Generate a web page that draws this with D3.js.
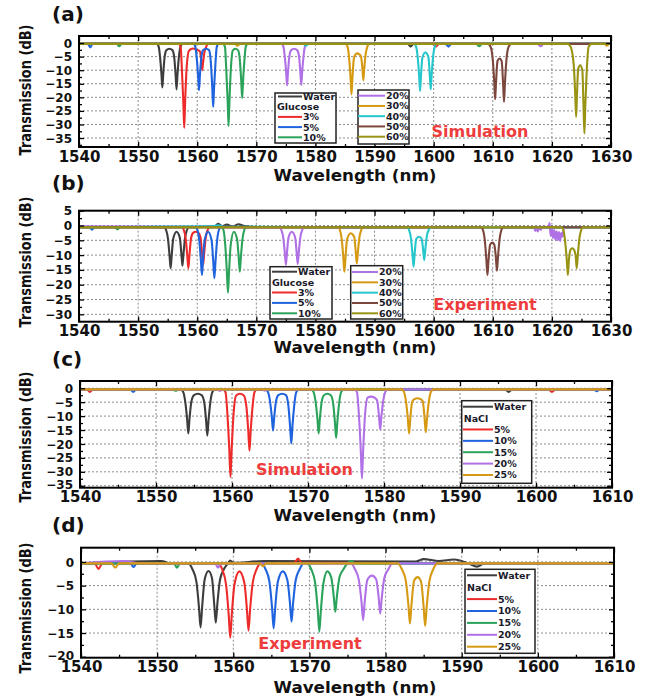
<!DOCTYPE html>
<html>
<head>
<meta charset="utf-8">
<script src="https://cdn.jsdelivr.net/npm/d3@7"></script>
<style>
  body { margin: 0; background: #fff; }
  text { font-family: "DejaVu Sans", sans-serif; font-weight: bold; }
</style>
</head>
<body>
<script>
const W = 649, H = 699;

// Labels / colours

const glucoseLabels = ["Water", "3%", "5%", "10%", "20%", "30%", "40%", "50%", "60%"];
const glucoseColors = ["#3d3d3d", "#ee2b2b", "#1f63df", "#2ba35a", "#b070e6", "#d69a12", "#25c6cc", "#7b463b", "#989312"];
const naclLabels = ["Water", "5%", "10%", "15%", "20%", "25%"];
const naclColors = ["#3d3d3d", "#ee2b2b", "#1f63df", "#2ba35a", "#b070e6", "#d69a12"];

// Ticks

const xTicksGlucose = d3.range(1540, 1631, 10);
const xTicksNacl = d3.range(1540, 1611, 10);
const yTicksA = [0, -5, -10, -15, -20, -25, -30, -35];
const yTicksB = [5, 0, -5, -10, -15, -20, -25, -30];
const yTicksC = [0, -5, -10, -15, -20, -25, -30, -35];
const yTicksD = [0, -5, -10, -15, -20];

// (a) glucose, simulation  [wavelength nm, dB]

const glucoseSim = [
  [[1540,-0.3],[1553.2,-0.3],[1553.5,-1.5],[1553.7,-4.9],[1553.95,-11.5],[1554.1,-16.4],[1554.25,-11.5],[1554.5,-4.9],[1554.8,-2.6],[1555.3,-2.1],[1555.8,-2.6],[1556.1,-5.1],[1556.35,-12],[1556.5,-17.1],[1556.65,-12],[1556.9,-5.1],[1557.15,-1.5],[1557.5,-0.3],[1595.6,-0.3],[1596.1,-1.3],[1596.6,-0.3],[1630,-0.3]],
  [[1540,-0.3],[1556.9,-0.3],[1557.2,-1.5],[1557.4,-9.4],[1557.65,-21.8],[1557.8,-31.2],[1557.95,-21.8],[1558.2,-9.4],[1558.6,-2.8],[1559.3,-2],[1560.0,-2.6],[1560.45,-3],[1560.7,-7],[1560.85,-10],[1561.0,-7],[1561.25,-3],[1561.5,-1.5],[1561.8,-0.3],[1599.9,-0.3],[1600.4,-1.3],[1600.9,-0.3],[1630,-0.3]],
  [[1540,-0.3],[1541.5,-0.3],[1541.9,-1.6],[1542.3,-0.3],[1559.4,-0.3],[1559.7,-1.5],[1559.9,-5.2],[1560.15,-12.2],[1560.3,-17.4],[1560.45,-12.2],[1560.7,-5.2],[1561.0,-2.6],[1561.5,-2.1],[1562.0,-2.6],[1562.3,-7],[1562.55,-16.5],[1562.7,-23.5],[1562.85,-16.5],[1563.1,-7],[1563.3,-1.5],[1563.6,-0.3],[1602.0,-0.3],[1602.5,-1.3],[1603.0,-0.3],[1630,-0.3]],
  [[1540,-0.3],[1546.4,-0.3],[1546.8,-1.2],[1547.2,-0.3],[1564.4,-0.3],[1564.7,-1.5],[1564.9,-9.2],[1565.15,-21.4],[1565.3,-30.6],[1565.45,-21.4],[1565.7,-9.2],[1566.0,-2.8],[1566.45,-2.1],[1566.9,-2.6],[1567.2,-6],[1567.45,-14.1],[1567.6,-20.2],[1567.75,-14.1],[1568.0,-6],[1568.2,-1.5],[1568.5,-0.3],[1607.2,-0.3],[1607.7,-1.2],[1608.2,-0.3],[1630,-0.3]],
  [[1540,-0.3],[1574.3,-0.3],[1574.6,-1.5],[1574.8,-4.7],[1575.05,-10.9],[1575.2,-15.6],[1575.35,-10.9],[1575.6,-4.7],[1575.9,-2.6],[1576.4,-2.1],[1576.9,-2.6],[1577.2,-4.6],[1577.45,-10.8],[1577.6,-15.4],[1577.75,-10.8],[1578.0,-4.6],[1578.2,-1.5],[1578.5,-0.3],[1617.6,-0.3],[1618.1,-1.2],[1618.6,-0.3],[1630,-0.3]],
  [[1540,-0.3],[1566.4,-0.3],[1566.8,-1],[1567.2,-0.3],[1585.1,-0.3],[1585.45,-1.5],[1585.7,-5.7],[1585.95,-13.2],[1586.1,-18.9],[1586.25,-13.2],[1586.5,-5.7],[1586.8,-4.1],[1587.1,-3.8],[1587.4,-4.1],[1587.7,-4.9],[1587.95,-9.6],[1588.1,-13.7],[1588.25,-9.6],[1588.5,-4.1],[1588.75,-1.5],[1589.1,-0.3],[1628.9,-0.3],[1629.3,-1],[1629.7,-0.3],[1630,-0.3]],
  [[1540,-0.3],[1578.0,-0.3],[1578.4,-1],[1578.8,-0.3],[1596.7,-0.3],[1597.05,-1.5],[1597.3,-5.3],[1597.55,-12.3],[1597.7,-17.6],[1597.85,-12.3],[1598.1,-5.3],[1598.6,-3.5],[1599.1,-5.1],[1599.35,-12],[1599.5,-17.1],[1599.65,-12],[1599.9,-5.1],[1600.15,-1.5],[1600.5,-0.3],[1630,-0.3]],
  [[1540,-0.3],[1609.2,-0.3],[1609.65,-1.5],[1610.0,-6.2],[1610.25,-14.5],[1610.4,-20.7],[1610.55,-14.5],[1610.8,-6.6],[1611.15,-5.7],[1611.5,-6.7],[1611.75,-15.2],[1611.9,-21.7],[1612.05,-15.2],[1612.3,-6.5],[1612.65,-1.5],[1613.1,-0.3],[1630,-0.3]],
  [[1540,-0.3],[1622.7,-0.3],[1623.2,-1.5],[1623.7,-8.2],[1623.95,-19],[1624.1,-27.2],[1624.25,-19],[1624.45,-9.5],[1624.8,-8.2],[1625.15,-10],[1625.35,-23.3],[1625.5,-33.3],[1625.65,-23.3],[1625.9,-10],[1626.2,-1.5],[1626.7,-0.3],[1630,-0.3]]
];

// (b) glucose, experiment

const glucoseExp = [
  [[1540,-0.6],[1548,-0.5],[1554.4,-0.6],[1554.75,-1.6],[1555.05,-4.4],[1555.32,-10.2],[1555.5,-14.5],[1555.68,-10.2],[1555.95,-4.4],[1556.5,-2.1],[1557.05,-4.1],[1557.32,-9.5],[1557.5,-13.6],[1557.68,-9.5],[1557.95,-4.1],[1558.25,-1.6],[1558.6,-0.6],[1563.0,-0.3],[1563.5,0.6],[1564.2,-0.2],[1565,0.3],[1566,-0.4],[1567,0.4],[1568,-0.2],[1570,-0.5],[1590,-0.6],[1630,-0.5]],
  [[1540,-0.6],[1557.4,-0.6],[1557.75,-1.6],[1558.05,-4.4],[1558.32,-10.2],[1558.5,-14.5],[1558.68,-10.2],[1558.95,-4.4],[1559.3,-2.5],[1559.75,-2.1],[1560.2,-2.5],[1560.55,-4],[1560.82,-9.3],[1561.0,-13.3],[1561.18,-9.3],[1561.45,-4],[1561.75,-1.6],[1562.1,-0.6],[1630,-0.6]],
  [[1540,-0.6],[1541.8,-0.6],[1542.2,-1.4],[1542.6,-0.6],[1559.7,-0.6],[1560.05,-1.6],[1560.35,-5],[1560.62,-11.7],[1560.8,-16.7],[1560.98,-11.7],[1561.25,-5],[1561.85,-2.1],[1562.45,-5.3],[1562.72,-12.5],[1562.9,-17.8],[1563.08,-12.5],[1563.35,-5.3],[1563.65,-1.6],[1564.0,-0.6],[1630,-0.6]],
  [[1540,-0.6],[1546.1,-0.6],[1546.5,-1.3],[1546.9,-0.6],[1564.1,-0.6],[1564.45,-1.6],[1564.75,-6.8],[1565.02,-15.9],[1565.2,-22.7],[1565.38,-15.9],[1565.65,-6.8],[1566.2,-2.1],[1566.75,-4.7],[1567.02,-10.9],[1567.2,-15.6],[1567.38,-10.9],[1567.65,-4.7],[1567.95,-1.6],[1568.3,-0.6],[1630,-0.6]],
  [[1540,-0.3],[1573.9,-0.6],[1574.25,-1.6],[1574.55,-4],[1574.82,-9.3],[1575.0,-13.3],[1575.18,-9.3],[1575.45,-4],[1576.0,-2.1],[1576.55,-3.9],[1576.82,-9.1],[1577.0,-13],[1577.18,-9.1],[1577.45,-3.9],[1577.75,-1.6],[1578.1,-0.6],[1617.0,-0.6],[1617.2,-1.8],[1617.4,-0.4],[1617.6,-2],[1617.8,-0.5],[1618.1,-1.5],[1618.4,-0.4],[1619.4,-0.6],[1619.6,0.8],[1619.8,-3.5],[1620.0,-0.8],[1620.2,-4.2],[1620.4,-1.5],[1620.6,-4.8],[1620.8,-2],[1621.0,-5],[1621.2,-2.2],[1621.4,-5.2],[1621.6,-2.5],[1621.8,-3.8],[1622.0,-1],[1622.3,-0.6],[1630,-0.6]],
  [[1540,-0.6],[1583.8,-0.6],[1584.15,-1.6],[1584.45,-4.7],[1584.72,-10.9],[1584.9,-15.6],[1585.08,-10.9],[1585.35,-4.7],[1585.95,-2.6],[1586.55,-3.8],[1586.82,-9],[1587.0,-12.8],[1587.18,-9],[1587.45,-3.8],[1587.75,-1.6],[1588.1,-0.6],[1630,-0.6]],
  [[1540,-0.6],[1562.5,-0.3],[1563.5,0.1],[1564.5,-0.4],[1595.5,-0.6],[1595.85,-1.6],[1596.15,-4.2],[1596.42,-9.7],[1596.6,-13.9],[1596.78,-9.7],[1597.05,-4.6],[1597.5,-3.8],[1597.95,-4.4],[1598.22,-8.2],[1598.4,-11.7],[1598.58,-8.2],[1598.85,-3.5],[1599.15,-1.6],[1599.5,-0.6],[1630,-0.6]],
  [[1540,-0.6],[1608.0,-0.6],[1608.35,-1.6],[1608.65,-5],[1608.92,-11.7],[1609.1,-16.7],[1609.28,-11.7],[1609.55,-6.5],[1609.9,-5.8],[1610.25,-6.4],[1610.52,-10.7],[1610.7,-15.3],[1610.88,-10.7],[1611.15,-4.6],[1611.45,-1.6],[1611.8,-0.6],[1630,-0.6]],
  [[1540,-0.6],[1621.6,-0.6],[1621.95,-1.6],[1622.25,-5.5],[1622.52,-11.7],[1622.7,-16.7],[1622.88,-11.7],[1623.15,-8.2],[1623.45,-7.7],[1623.75,-8.2],[1624.02,-10.2],[1624.2,-14.5],[1624.38,-10.2],[1624.65,-4.4],[1624.95,-1.6],[1625.3,-0.6],[1630,-0.6]]
];

// (c) NaCl, simulation

const naclSim = [
  [[1540,-0.4],[1553.25,-0.4],[1553.6,-1.5],[1553.85,-4.9],[1554.1,-11.3],[1554.25,-16.2],[1554.4,-11.3],[1554.65,-4.9],[1555.0,-2.5],[1555.5,-2],[1556.0,-2.5],[1556.35,-5.1],[1556.6,-11.9],[1556.75,-17],[1556.9,-11.9],[1557.15,-5.1],[1557.4,-1.5],[1557.75,-0.4],[1595.9,-0.4],[1596.4,-1.3],[1596.9,-0.4],[1610,-0.4]],
  [[1540,-0.4],[1540.9,-0.4],[1541.3,-1.3],[1541.7,-0.4],[1558.8,-0.4],[1559.15,-1.5],[1559.4,-9.5],[1559.65,-22.3],[1559.8,-31.8],[1559.95,-22.3],[1560.2,-9.5],[1560.55,-2.6],[1561.05,-2],[1561.55,-2.6],[1561.9,-6.7],[1562.15,-15.7],[1562.3,-22.4],[1562.45,-15.7],[1562.7,-6.7],[1562.95,-1.5],[1563.3,-0.4],[1601.6,-0.4],[1602.1,-1.3],[1602.6,-0.4],[1610,-0.4]],
  [[1540,-0.4],[1546.6,-0.4],[1547.0,-1.3],[1547.4,-0.4],[1564.4,-0.4],[1564.75,-1.5],[1565.0,-4.6],[1565.25,-10.6],[1565.4,-15.2],[1565.55,-10.6],[1565.8,-4.6],[1566.1,-2.5],[1566.6,-2],[1567.1,-2.5],[1567.4,-5.9],[1567.65,-13.9],[1567.8,-19.8],[1567.95,-13.9],[1568.2,-5.9],[1568.45,-1.5],[1568.8,-0.4],[1607.6,-0.4],[1608.0,-1.1],[1608.4,-0.4],[1610,-0.4]],
  [[1540,-0.4],[1552.2,-0.4],[1552.6,-0.9],[1553.0,-0.4],[1570.4,-0.4],[1570.75,-1.5],[1571.0,-4.9],[1571.25,-11.3],[1571.4,-16.2],[1571.55,-11.3],[1571.8,-4.9],[1572.1,-2.5],[1572.55,-2],[1573.0,-2.5],[1573.3,-5.3],[1573.55,-12.5],[1573.7,-17.8],[1573.85,-12.5],[1574.1,-5.3],[1574.35,-1.5],[1574.7,-0.4],[1610,-0.4]],
  [[1540,-0.4],[1558.0,-0.4],[1558.4,-0.9],[1558.8,-0.4],[1564.0,-0.4],[1564.3,-0.9],[1564.6,-0.4],[1576.1,-0.4],[1576.45,-1.5],[1576.7,-9.7],[1576.95,-22.7],[1577.1,-32.4],[1577.25,-22.7],[1577.5,-9.7],[1577.85,-3.4],[1578.3,-3],[1578.75,-3.4],[1579.1,-4.4],[1579.35,-10.4],[1579.5,-14.8],[1579.65,-10.4],[1579.9,-4.4],[1580.15,-1.5],[1580.5,-0.4],[1610,-0.4]],
  [[1540,-0.4],[1582.3,-0.4],[1582.65,-1.5],[1582.9,-4.9],[1583.15,-11.3],[1583.3,-16.2],[1583.45,-11.3],[1583.7,-4.9],[1584.0,-3.9],[1584.4,-3.6],[1584.8,-3.9],[1585.1,-4.7],[1585.35,-11.1],[1585.5,-15.8],[1585.65,-11.1],[1585.9,-4.7],[1586.15,-1.5],[1586.5,-0.4],[1610,-0.4]]
];

// (d) NaCl, experiment

const naclExp = [
  [[1540,-0.3],[1550.5,0.2],[1552,-0.4],[1554.1,-0.3],[1554.65,-1.6],[1555.15,-4.1],[1555.5,-9.7],[1555.7,-13.8],[1555.9,-9.7],[1556.25,-3.6],[1556.75,-1.9],[1557.2,-3.4],[1557.5,-9],[1557.7,-12.8],[1557.9,-9],[1558.25,-3.8],[1558.75,-1.6],[1559.3,-0.3],[1559.6,0.3],[1560,-0.2],[1564,0.2],[1584,0.1],[1585,0.6],[1587,0.2],[1589,0.5],[1591,-0.4],[1592,-1],[1593,-0.3],[1610,-0.3]],
  [[1540,-0.3],[1541.8,-0.3],[1542.3,-1.5],[1542.8,-0.3],[1558.0,-0.3],[1558.55,-1.6],[1559.05,-4.8],[1559.4,-11.2],[1559.6,-16],[1559.8,-11.2],[1560.15,-4.8],[1560.8,-2],[1561.45,-4.4],[1561.8,-10.2],[1562.0,-14.5],[1562.2,-10.2],[1562.55,-4.4],[1563.05,-1.6],[1563.6,-0.3],[1568.0,-0.2],[1568.5,0.7],[1569.0,-0.2],[1610,-0.3]],
  [[1540,-0.3],[1546.5,-0.3],[1546.9,-1.1],[1547.3,-0.3],[1563.7,-0.3],[1564.25,-1.6],[1564.75,-4.2],[1565.1,-9.8],[1565.3,-14],[1565.5,-9.8],[1565.85,-4.2],[1566.5,-2],[1567.1,-3.8],[1567.45,-8.8],[1567.65,-12.6],[1567.85,-8.8],[1568.2,-3.8],[1568.7,-1.6],[1569.25,-0.3],[1610,-0.3]],
  [[1540,-0.3],[1552.2,-0.3],[1552.6,-1.2],[1553.0,-0.3],[1569.7,-0.3],[1570.25,-1.6],[1570.75,-4.4],[1571.1,-10.3],[1571.3,-14.7],[1571.5,-10.3],[1571.85,-4.4],[1572.35,-2],[1572.85,-3.2],[1573.2,-7.4],[1573.4,-10.5],[1573.6,-7.4],[1573.95,-3.2],[1574.45,-1.6],[1575.0,-0.3],[1575.5,0.2],[1576,-0.3],[1610,-0.3]],
  [[1540,-0.3],[1545.5,0.2],[1548,-0.3],[1557.6,-0.3],[1558.0,-1.2],[1558.4,-0.3],[1575.45,-0.3],[1576.0,-1.6],[1576.5,-3.9],[1576.85,-8.6],[1577.05,-12.3],[1577.25,-8.6],[1577.6,-3.8],[1578.2,-2.9],[1578.75,-3.6],[1579.1,-7.6],[1579.3,-10.9],[1579.5,-7.6],[1579.85,-3.3],[1580.35,-1.6],[1580.9,-0.3],[1610,-0.3]],
  [[1540,-0.3],[1544.0,-0.3],[1544.5,-1.2],[1545.0,-0.3],[1563.5,-0.3],[1563.9,-0.9],[1564.3,-0.3],[1581.6,-0.3],[1582.15,-1.6],[1582.65,-3.9],[1583.0,-9.1],[1583.2,-13],[1583.4,-9.1],[1583.75,-3.9],[1584.2,-3.2],[1584.65,-4.1],[1585.0,-9.5],[1585.2,-13.5],[1585.4,-9.5],[1585.75,-4.1],[1586.25,-1.6],[1586.8,-0.3],[1610,-0.3]]
];

// SVG

const svg = d3.select("body").append("svg").attr("width", W).attr("height", H);

function drawPanel(p) {
  const x = d3.scaleLinear().domain(p.xDomain).range([p.left, p.right]);
  const y = d3.scaleLinear().domain(p.yDomain).range([p.bottom, p.top]);
  const g = svg.append("g");

  // grid
  g.append("g").selectAll("line").data(p.xTicks.slice(1, -1)).join("line")
    .attr("x1", d => x(d)).attr("x2", d => x(d))
    .attr("y1", p.top).attr("y2", p.bottom)
    .attr("stroke", "#8c8c8c").attr("stroke-dasharray", "2,2");
  g.append("g").selectAll("line").data(p.yTicks.filter(v => y(v) > p.top + 1 && y(v) < p.bottom - 1)).join("line")
    .attr("x1", p.left).attr("x2", p.right)
    .attr("y1", d => y(d)).attr("y2", d => y(d))
    .attr("stroke", "#8c8c8c").attr("stroke-dasharray", "2,2");

  // curves
  svg.append("clipPath").attr("id", "clip-" + p.id).append("rect")
    .attr("x", p.left).attr("y", p.top).attr("width", p.right - p.left).attr("height", p.bottom - p.top);
  const line = d3.line().x(d => x(d[0])).y(d => y(d[1])).curve(d3.curveMonotoneX);
  g.append("g").attr("clip-path", `url(#clip-${p.id})`)
    .selectAll("path").data(p.series).join("path")
    .attr("d", d => line(d))
    .attr("fill", "none")
    .attr("stroke", (d, i) => p.colors[i])
    .attr("stroke-width", 2.1)
    .attr("stroke-linejoin", "round");

  // axes
  const xMinor = d3.range(p.xDomain[0] + 5, p.xDomain[1], 10);
  const yMinor = p.yTicks.map(v => v - 2.5).filter(v => v > p.yDomain[0]);

  const bottom = g.append("g").attr("transform", `translate(0,${p.bottom})`)
    .call(d3.axisBottom(x).tickValues(p.xTicks).tickSizeInner(-5).tickSizeOuter(0).tickPadding(4).tickFormat(d3.format("d")));
  bottom.selectAll("text").attr("font-size", 15).attr("fill", "#111");
  g.append("g").attr("transform", `translate(0,${p.bottom})`)
    .call(d3.axisBottom(x).tickValues(xMinor).tickSizeInner(-3).tickSizeOuter(0).tickFormat(""));
  g.append("g").attr("transform", `translate(0,${p.top})`)
    .call(d3.axisTop(x).tickValues(p.xTicks).tickSizeInner(-5).tickSizeOuter(0).tickFormat(""));
  g.append("g").attr("transform", `translate(0,${p.top})`)
    .call(d3.axisTop(x).tickValues(xMinor).tickSizeInner(-3).tickSizeOuter(0).tickFormat(""));

  const left = g.append("g").attr("transform", `translate(${p.left},0)`)
    .call(d3.axisLeft(y).tickValues(p.yTicks).tickSizeInner(-5).tickSizeOuter(0).tickPadding(7));
  left.selectAll("text").attr("font-size", 12).attr("fill", "#111")
    .attr("dy", d => (y(d) > p.bottom - 6 ? "0.22em" : "0.34em"));
  g.append("g").attr("transform", `translate(${p.left},0)`)
    .call(d3.axisLeft(y).tickValues(yMinor).tickSizeInner(-3).tickSizeOuter(0).tickFormat(""));
  g.append("g").attr("transform", `translate(${p.right},0)`)
    .call(d3.axisRight(y).tickValues(p.yTicks).tickSizeInner(-5).tickSizeOuter(0).tickFormat(""));
  g.append("g").attr("transform", `translate(${p.right},0)`)
    .call(d3.axisRight(y).tickValues(yMinor).tickSizeInner(-3).tickSizeOuter(0).tickFormat(""));
  g.selectAll(".domain").remove();
  g.selectAll(".tick line").attr("stroke", "#000").attr("stroke-width", 1.3);

  // frame
  g.append("rect").attr("x", p.left).attr("y", p.top)
    .attr("width", p.right - p.left).attr("height", p.bottom - p.top)
    .attr("fill", "none").attr("stroke", "#000").attr("stroke-width", 2);

  // titles
  g.append("text").attr("x", 355).attr("y", p.xTitleY).attr("text-anchor", "middle")
    .attr("font-size", 15).attr("textLength", 163).attr("lengthAdjust", "spacingAndGlyphs")
    .attr("fill", "#111").text("Wavelength (nm)");
  g.append("text").attr("transform", `translate(31,${p.yTitleY}) rotate(-90)`).attr("text-anchor", "middle")
    .attr("font-size", 15).attr("textLength", 131).attr("lengthAdjust", "spacingAndGlyphs")
    .attr("fill", "#111").text("Transmission (dB)");
  g.append("text").attr("x", 52).attr("y", p.tagY).attr("font-size", 20).attr("fill", "#111").text(p.tag);
  g.append("text").attr("x", p.note[0]).attr("y", p.note[1]).attr("text-anchor", "middle")
    .attr("font-size", 16).attr("fill", "#ee3b3b").text(p.note[2]);

  // legend boxes
  p.legends.forEach(L => {
    const lg = g.append("g");
    lg.append("rect").attr("x", L.x).attr("y", L.y).attr("width", L.w).attr("height", L.h)
      .attr("fill", "#fff").attr("stroke", "#222").attr("stroke-width", 1.5);
    L.rows.forEach((r, i) => {
      const ry = L.row0 + i * L.step;
      if (r.color) {
        lg.append("line").attr("x1", L.lx1).attr("x2", L.lx2).attr("y1", ry).attr("y2", ry)
          .attr("stroke", r.color).attr("stroke-width", 2);
        lg.append("text").attr("x", L.lx2 + 1).attr("y", ry).attr("dy", "0.36em")
          .attr("font-size", 9.5).attr("fill", "#1a1a2a").text(r.label);
      } else {
        lg.append("text").attr("x", L.x + 2).attr("y", ry).attr("dy", "0.36em")
          .attr("font-size", 9.5).attr("fill", "#1a1a2a").text(r.label);
      }
    });
  });
}

const rows = (labels, colors, idx) => idx.map(i => ({ label: labels[i], color: colors[i] }));

drawPanel({
  id: "a", tag: "(a)", tagY: 21, left: 79, right: 611, top: 36, bottom: 147,
  xDomain: [1540, 1630], yDomain: [-38.3, 2.6], xTicks: xTicksGlucose, yTicks: yTicksA,
  series: glucoseSim, colors: glucoseColors, xTitleY: 181, yTitleY: 90,
  note: [480, 137, "Simulation"],
  legends: [
    { x: 275, y: 93, w: 61, h: 50, lx1: 278, lx2: 302, row0: 96.5, step: 10.2,
      rows: [{ label: "Water", color: glucoseColors[0] }, { label: "Glucose" }].concat(rows(glucoseLabels, glucoseColors, [1, 2, 3])) },
    { x: 358, y: 90, w: 51, h: 54, lx1: 358, lx2: 385, row0: 95.7, step: 10.25,
      rows: rows(glucoseLabels, glucoseColors, [4, 5, 6, 7, 8]) }
  ]
});

drawPanel({
  id: "b", tag: "(b)", tagY: 190, left: 79, right: 611, top: 210.7, bottom: 321.7,
  xDomain: [1540, 1630], yDomain: [-32.5, 5], xTicks: xTicksGlucose, yTicks: yTicksB,
  series: glucoseExp, colors: glucoseColors, xTitleY: 353, yTitleY: 262,
  note: [485, 309.5, "Experiment"],
  legends: [
    { x: 270, y: 266.7, w: 62, h: 52.3, lx1: 272, lx2: 297, row0: 271.7, step: 10.4,
      rows: [{ label: "Water", color: glucoseColors[0] }, { label: "Glucose" }].concat(rows(glucoseLabels, glucoseColors, [1, 2, 3])) },
    { x: 350.7, y: 265.7, w: 52, h: 53.3, lx1: 352, lx2: 378, row0: 272, step: 10.33,
      rows: rows(glucoseLabels, glucoseColors, [4, 5, 6, 7, 8]) }
  ]
});

drawPanel({
  id: "c", tag: "(c)", tagY: 366, left: 80, right: 612, top: 381, bottom: 487.7,
  xDomain: [1540, 1610], yDomain: [-35.7, 2.6], xTicks: xTicksNacl, yTicks: yTicksC,
  series: naclSim, colors: naclColors, xTitleY: 521, yTitleY: 437,
  note: [304.5, 475, "Simulation"],
  legends: [
    { x: 461.7, y: 400.7, w: 70, h: 82.6, lx1: 463, lx2: 493, row0: 406.7, step: 11.38,
      rows: [{ label: "Water", color: naclColors[0] }, { label: "NaCl" }].concat(rows(naclLabels, naclColors, [1, 2, 3, 4, 5])) }
  ]
});

drawPanel({
  id: "d", tag: "(d)", tagY: 532, left: 81, right: 614, top: 547.7, bottom: 657.7,
  xDomain: [1540, 1610], yDomain: [-20.2, 3], xTicks: xTicksNacl, yTicks: yTicksD,
  series: naclExp, colors: naclColors, xTitleY: 693, yTitleY: 608,
  note: [310, 649, "Experiment"],
  legends: [
    { x: 465, y: 569.3, w: 70, h: 84, lx1: 467, lx2: 497, row0: 575.3, step: 11.9,
      rows: [{ label: "Water", color: naclColors[0] }, { label: "NaCl" }].concat(rows(naclLabels, naclColors, [1, 2, 3, 4, 5])) }
  ]
});
</script>
</body>
</html>
